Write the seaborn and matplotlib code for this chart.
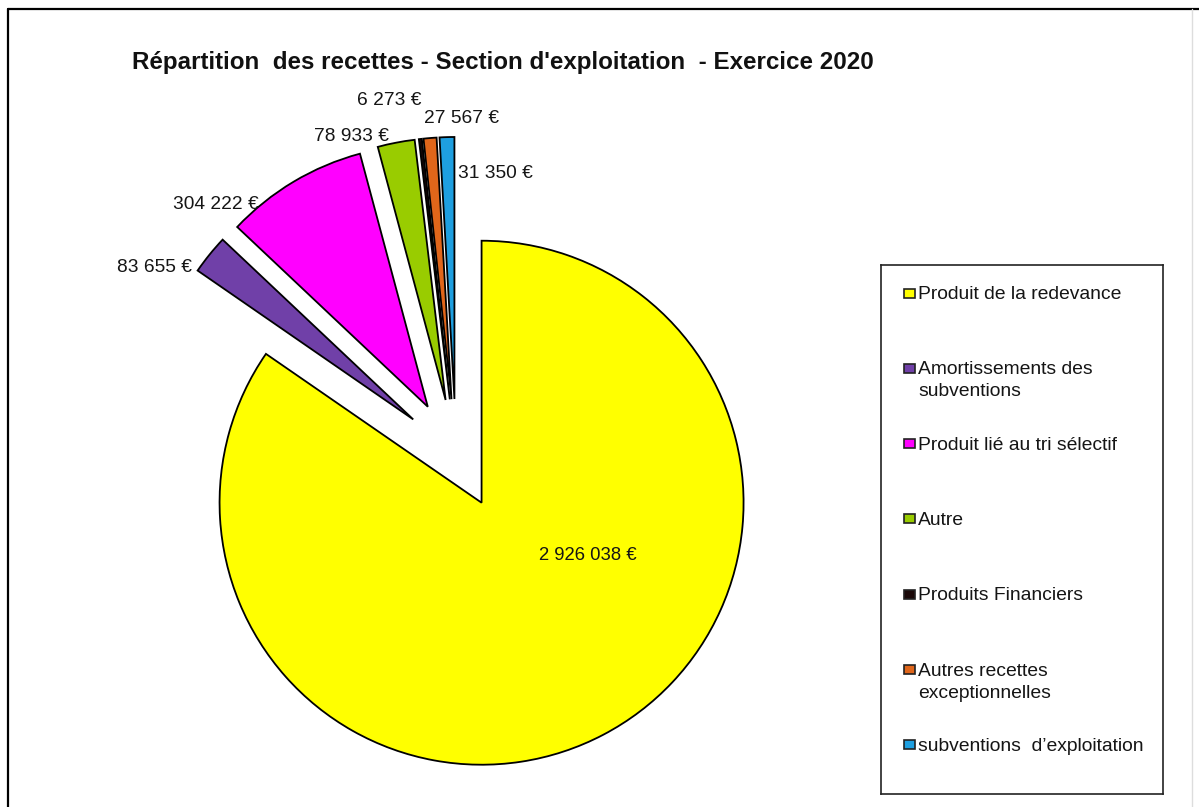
import numpy as np
import matplotlib
matplotlib.use("Agg")
import matplotlib.pyplot as plt
from matplotlib.patches import Rectangle
from matplotlib.lines import Line2D
import seaborn as sns

# Operating-section revenue, financial year 2020
categories = [
    "Produit de la redevance",
    "Amortissements des\nsubventions",
    "Produit lié au tri sélectif",
    "Autre",
    "Produits Financiers",
    "Autres recettes\nexceptionnelles",
    "subventions  d’exploitation",
]
values = [2926038, 83655, 304222, 78933, 6273, 27567, 31350]
colors = ["#FFFF00", "#7040A8", "#FF00FF", "#99CC00", "#1A0808", "#E0661A", "#1E9FE0"]
title = "Répartition  des recettes - Section d'exploitation  - Exercice 2020"


def euro(v):
    return f"{v:,}".replace(",", " ") + " €"


sns.set_theme(style="white")
plt.rcParams["font.family"] = ["Liberation Sans", "DejaVu Sans"]

W, H = 1199, 807
fig = plt.figure(figsize=(W / 100, H / 100), dpi=100)
fig.patch.set_facecolor("white")

# Pie axes spanning the figure; one data unit equals the pie radius
cx, cy, R = 456, 454, 262
ax = fig.add_axes([0, 0, 1, 1])
wedges, _ = ax.pie(
    values,
    colors=colors,
    explode=[0.21] * len(values),
    startangle=90,
    counterclock=False,
    radius=1,
    wedgeprops=dict(edgecolor="black", linewidth=1.3),
)
ax.set_xlim(-cx / R, (W - cx) / R)
ax.set_ylim(-(H - cy) / R, cy / R)
ax.set_aspect("equal")
ax.axis("off")

# Value labels: (anchor on arc or at centre, pixel offset, horizontal alignment, size)
label_style = [
    ("center", (106, -53), "center", 13.3),
    ("arc", (-18, -13), "right", 13.8),
    ("arc", (-35, -23), "right", 13.8),
    ("arc", (-7, 6), "right", 13.8),
    ("arc", (1, 38), "right", 13.8),
    ("arc", (-6, 20), "left", 13.8),
    ("arc", (11, -36), "left", 13.8),
]
for w, v, (anchor, off, ha, fs) in zip(wedges, values, label_style):
    x0, y0 = w.center
    if anchor == "arc":
        tm = np.deg2rad((w.theta1 + w.theta2) / 2)
        x0 += w.r * np.cos(tm)
        y0 += w.r * np.sin(tm)
    ax.annotate(euro(v), xy=(x0, y0), xytext=off, textcoords="offset pixels",
                ha=ha, va="center", fontsize=fs, color="#151515")

fig.text(503 / W, 1 - 62 / H, title, ha="center", va="center",
         fontsize=17.4, fontweight="bold", color="#111111")

# Legend box
lx0, ly0, lx1, ly1 = 881, 265, 1163, 794
lax = fig.add_axes([lx0 / W, 1 - ly1 / H, (lx1 - lx0) / W, (ly1 - ly0) / H])
lax.set_xlim(0, lx1 - lx0)
lax.set_ylim(ly1 - ly0, 0)
lax.set_xticks([])
lax.set_yticks([])
for s in lax.spines.values():
    s.set_visible(True)
    s.set_color("#222222")
    s.set_linewidth(1.2)
lax.set_facecolor("white")
step = 75.3
for i, (cat, col) in enumerate(zip(categories, colors)):
    yc = 28 + i * step
    lax.add_patch(Rectangle((23, yc - 4.5), 11, 9, facecolor=col,
                            edgecolor="#222222", linewidth=1.2))
    for k, line in enumerate(cat.split("\n")):
        lax.text(37, yc + 6 + k * 22, line, ha="left", va="baseline",
                 fontsize=13.9, color="#151515")

# Outer frame lines
fig.add_artist(Line2D([8 / W, 1], [1 - 9 / H, 1 - 9 / H], transform=fig.transFigure,
                      color="black", lw=1.6))
fig.add_artist(Line2D([8 / W, 8 / W], [0, 1 - 9 / H], transform=fig.transFigure,
                      color="black", lw=1.6))
fig.add_artist(Line2D([1192 / W, 1192 / W], [0, 1 - 9 / H], transform=fig.transFigure,
                      color="#dddddd", lw=1))

fig.savefig("out.png", dpi=100)
